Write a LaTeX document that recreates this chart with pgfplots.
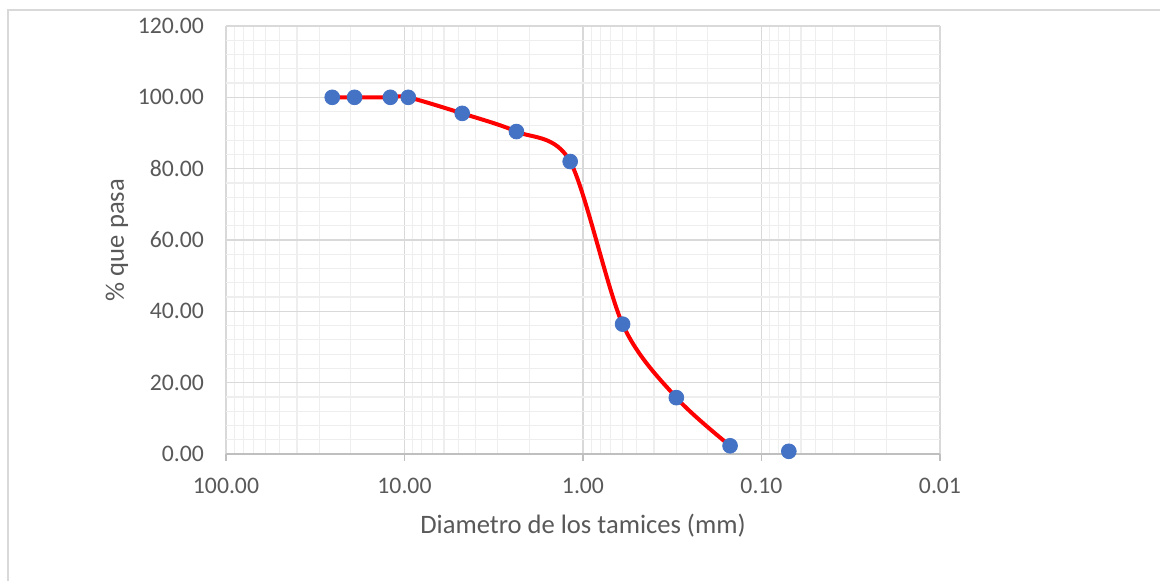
\documentclass[border=0pt]{standalone}
\usepackage{pgfplots}
\pgfplotsset{compat=1.18}
\usepackage{fontspec}
\setmainfont{Carlito}
\definecolor{majgrid}{RGB}{217,217,217}
\definecolor{mingrid}{RGB}{238,238,238}
\definecolor{axisgray}{RGB}{191,191,191}
\definecolor{txtgray}{RGB}{89,89,89}
\definecolor{mkblue}{RGB}{68,114,196}
\begin{document}
\begin{tikzpicture}
\useasboundingbox (0,0) rectangle (580pt,290.5pt);
\fill[white] (0,0) rectangle (580pt,290.5pt);
\draw[color=majgrid, line width=0.6pt] (4pt,-5pt) -- (4pt,285.5pt) -- (590pt,285.5pt);
\begin{axis}[
  at={(113pt,63.5pt)}, anchor=south west,
  scale only axis, width=357pt, height=214pt,
  xmode=log, x dir=reverse,
  xmin=0.01, xmax=100, ymin=0, ymax=120,
  xtick={0.01,0.1,1,10,100},
  xticklabels={0.01,0.10,1.00,10.00,100.00},
  minor xtick={0.02,0.03,0.04,0.05,0.06,0.07,0.08,0.09,0.2,0.3,0.4,0.5,0.6,0.7,0.8,0.9,2,3,4,5,6,7,8,9,20,30,40,50,60,70,80,90},
  ytick={0,20,40,60,80,100,120},
  yticklabels={0.00,20.00,40.00,60.00,80.00,100.00,120.00},
  minor ytick={4,8,12,16,24,28,32,36,44,48,52,56,64,68,72,76,84,88,92,96,104,108,112,116},
  grid=both,
  major grid style={color=majgrid, line width=0.6pt},
  minor grid style={color=mingrid, line width=0.6pt},
  axis line style={draw=none},
  axis x line*=bottom,
  x axis line style={draw=axisgray, line width=0.7pt},
  major x tick style={draw=axisgray, line width=0.7pt},
  minor x tick style={draw=none},
  ytick style={draw=none},
  xtick align=outside,
  major tick length=3.5pt,
  tick label style={font=\fontsize{11.85}{13}\selectfont, text=txtgray},
  xticklabel style={yshift=-5pt},
  yticklabel style={xshift=-7.5pt},
  xlabel={Diametro de los tamices (mm)},
  ylabel={\% que pasa},
  label style={font=\fontsize{13.3}{15}\selectfont, text=txtgray},
  xlabel style={yshift=-3.5pt},
  ylabel style={yshift=-2pt},
  clip=false,
]
\addplot[color=red, line width=2pt, smooth, tension=0.5, no marks] coordinates {
(25.4,100) (19.05,100) (12.0,100) (9.525,100) (4.75,95.5) (2.36,90.4) (1.18,82.0) (0.6,36.4) (0.3,15.8) (0.15,2.3)
};
\addplot[only marks, mark=*, mark size=3.7pt, mark options={fill=mkblue, draw=mkblue}] coordinates {
(25.4,100) (19.05,100) (12.0,100) (9.525,100) (4.75,95.5) (2.36,90.4) (1.18,82.0) (0.6,36.4) (0.3,15.8) (0.15,2.3) (0.0703,0.75)
};
\end{axis}
\end{tikzpicture}
\end{document}
